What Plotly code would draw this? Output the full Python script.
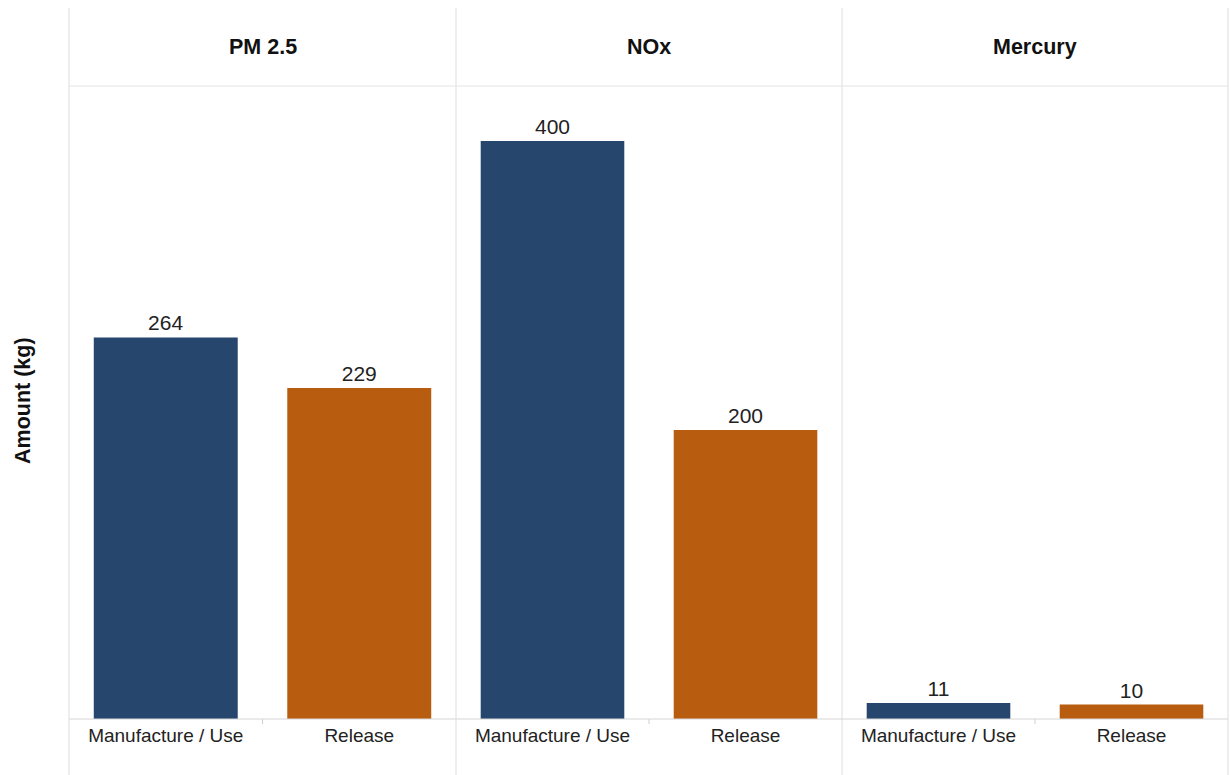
import plotly.graph_objects as go

pollutants = ["PM 2.5", "NOx", "Mercury"]
stages = ["Manufacture / Use", "Release"]
manufacture_use = [264, 400, 11]
release = [229, 200, 10]

bar_colors = ["#27466E", "#B85C0F"]
W, H = 1231, 775
left_px, right_px = 69, 1228
top_px, header_px, base_px = 8, 86, 719
panel_edges = [69, 456, 842, 1228]
line_color = "#e3e3e3"
font_family = "Liberation Sans, Arial, sans-serif"

fig = go.Figure()
for i, name in enumerate(pollutants):
    ax = "" if i == 0 else str(i + 1)
    vals = [manufacture_use[i], release[i]]
    fig.add_trace(go.Bar(
        x=stages, y=vals,
        marker=dict(color=bar_colors, line=dict(width=0)),
        text=[str(v) for v in vals], textposition="outside",
        textfont=dict(size=21, color="#222222", family=font_family),
        cliponaxis=False, showlegend=False,
        xaxis="x" + ax, yaxis="y" + ax,
    ))
    x0 = panel_edges[i] / W
    x1 = panel_edges[i + 1] / W
    fig.update_layout(**{
        "xaxis" + ax: dict(domain=[x0, x1], anchor="y" + ax, showgrid=False,
                           showline=False, zeroline=False, ticks="",
                           ticklabelstandoff=3,
                           tickfont=dict(size=19, color="#222222"),
                           range=[-0.5, 1.5]),
        "yaxis" + ax: dict(domain=[(H - base_px) / H, (H - header_px) / H],
                           anchor="x" + ax, range=[0, 438], showgrid=False,
                           showticklabels=False, zeroline=False, showline=False),
    })
    fig.add_annotation(text="<b>%s</b>" % name, xref="paper", yref="paper",
                       x=(x0 + x1) / 2, y=1 - 47 / H, xanchor="center",
                       yanchor="middle", showarrow=False,
                       font=dict(size=21.5, color="#111111"))
    # small divider tick between the two bars at the baseline
    fig.add_shape(type="line", xref="x" + ax, yref="paper", x0=0.5, x1=0.5,
                  y0=(H - base_px - 5) / H, y1=(H - base_px) / H,
                  line=dict(color="#d0d0d0", width=1))

for xe in panel_edges:
    fig.add_shape(type="line", xref="paper", yref="paper", x0=xe / W, x1=xe / W,
                  y0=0, y1=1 - top_px / H, line=dict(color=line_color, width=1.2))
for ye in (header_px, base_px):
    fig.add_shape(type="line", xref="paper", yref="paper",
                  x0=left_px / W, x1=right_px / W, y0=1 - ye / H, y1=1 - ye / H,
                  line=dict(color=line_color if ye == header_px else "#d6d6d6", width=1.2))

fig.add_annotation(text="<b>Amount (kg)</b>", xref="paper", yref="paper",
                   x=23 / W, y=1 - 401 / H, xanchor="center", yanchor="middle",
                   textangle=-90, showarrow=False,
                   font=dict(size=21.5, color="#111111"))

fig.update_layout(
    width=W, height=H, margin=dict(l=0, r=0, t=0, b=0),
    plot_bgcolor="white", paper_bgcolor="white",
    bargap=0.256,
    font=dict(family=font_family, color="#222222"),
)

fig.write_html("out.html")
